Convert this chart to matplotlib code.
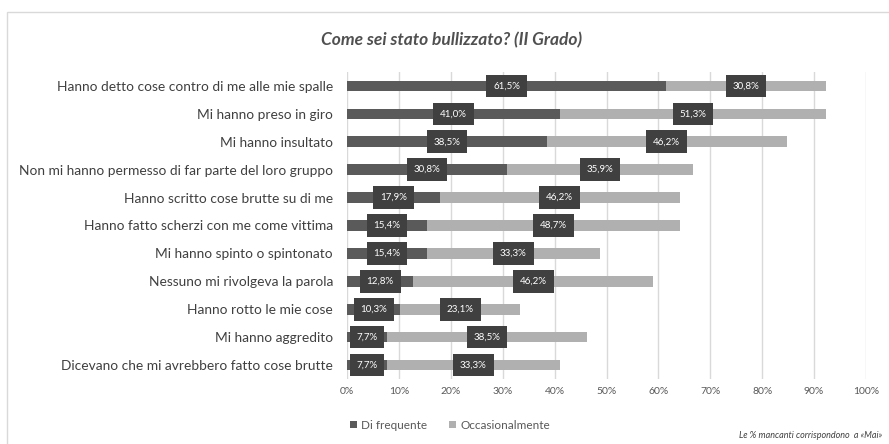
import matplotlib
matplotlib.use("Agg")
import matplotlib.pyplot as plt
from matplotlib.patches import Rectangle

categories = [
    "Hanno detto cose contro di me alle mie spalle",
    "Mi hanno preso in giro",
    "Mi hanno insultato",
    "Non mi hanno permesso di far parte del loro gruppo",
    "Hanno scritto cose brutte su di me",
    "Hanno fatto scherzi con me come vittima",
    "Mi hanno spinto o spintonato",
    "Nessuno mi rivolgeva la parola",
    "Hanno rotto le mie cose",
    "Mi hanno aggredito",
    "Dicevano che mi avrebbero fatto cose brutte",
]
di_frequente = [61.5, 41.0, 38.5, 30.8, 17.9, 15.4, 15.4, 12.8, 10.3, 7.7, 7.7]
occasionalmente = [30.8, 51.3, 46.2, 35.9, 46.2, 48.7, 33.3, 46.2, 23.1, 38.5, 33.3]
series_names = ["Di frequente", "Occasionalmente"]
xticks = [0, 10, 20, 30, 40, 50, 60, 70, 80, 90, 100]
title = "Come sei stato bullizzato? (II Grado)"
note = "Le % mancanti corrispondono  a «Mai»"

FONT = "Lato"
C_DARK = "#5a5a5a"
C_LIGHT = "#b0b0b0"
C_BOX = "#404040"
C_TEXT = "#404040"

W, H = 889, 444
fig = plt.figure(figsize=(W / 100, H / 100), dpi=100)

# outer frame (only left/top visible)
fig.add_artist(Rectangle((7 / W, -0.1), 1.2, 1 - 12 / H + 0.1, transform=fig.transFigure,
                         fill=False, edgecolor="#d9d9d9", linewidth=1.0))

left, right = 347 / W, 866 / W
top, bottom = 1 - 72 / H, 1 - 379 / H
ax = fig.add_axes([left, bottom, right - left, top - bottom])

n = len(categories)
y = list(range(n))
bh = 0.38
ax.barh(y, di_frequente, height=bh, color=C_DARK, label=series_names[0], zorder=3)
ax.barh(y, occasionalmente, left=di_frequente, height=bh, color=C_LIGHT,
        label=series_names[1], zorder=3)

def fmt(v):
    return f"{v:.1f}".replace(".", ",") + "%"

for i in range(n):
    f = di_frequente[i]
    o = occasionalmente[i]
    for xc, v in ((f / 2, f), (f + o / 2, o)):
        ax.text(xc, i, fmt(v), ha="center", va="center", color="white",
                fontsize=7, family=FONT, zorder=5,
                bbox=dict(boxstyle="square,pad=0.7", facecolor=C_BOX, edgecolor="none"))

ax.set_xlim(0, 100)
ax.set_ylim(n - 0.5, -0.5)
ax.set_xticks(xticks)
ax.set_xticklabels([f"{t}%" for t in xticks], fontsize=7.5, family=FONT, color="#595959")
ax.set_yticks(y)
ax.set_yticklabels(categories, fontsize=9.9, family=FONT, color=C_TEXT)
ax.tick_params(axis="both", length=0)
ax.tick_params(axis="x", pad=6)
ax.tick_params(axis="y", pad=10)
ax.grid(axis="x", color="#d9d9d9", linewidth=1, zorder=0)
for s in ax.spines.values():
    s.set_visible(False)

fig.text(452 / W, 1 - 40 / H, title, ha="center", va="center", fontsize=12.5,
         style="italic", weight="bold", family=FONT, color="#505050")

leg = fig.legend(loc="center", bbox_to_anchor=(450 / W, 1 - 425 / H), ncol=2,
                 frameon=False, prop={"family": FONT, "size": 8.5},
                 handlelength=0.6, handleheight=0.6, handletextpad=0.4, columnspacing=1.8)
for t in leg.get_texts():
    t.set_color("#595959")

fig.text(882 / W, 1 - 435 / H, note, ha="right", va="center", fontsize=6.5,
         style="italic", family=FONT, color=C_TEXT)

fig.savefig("out.png", dpi=100)
